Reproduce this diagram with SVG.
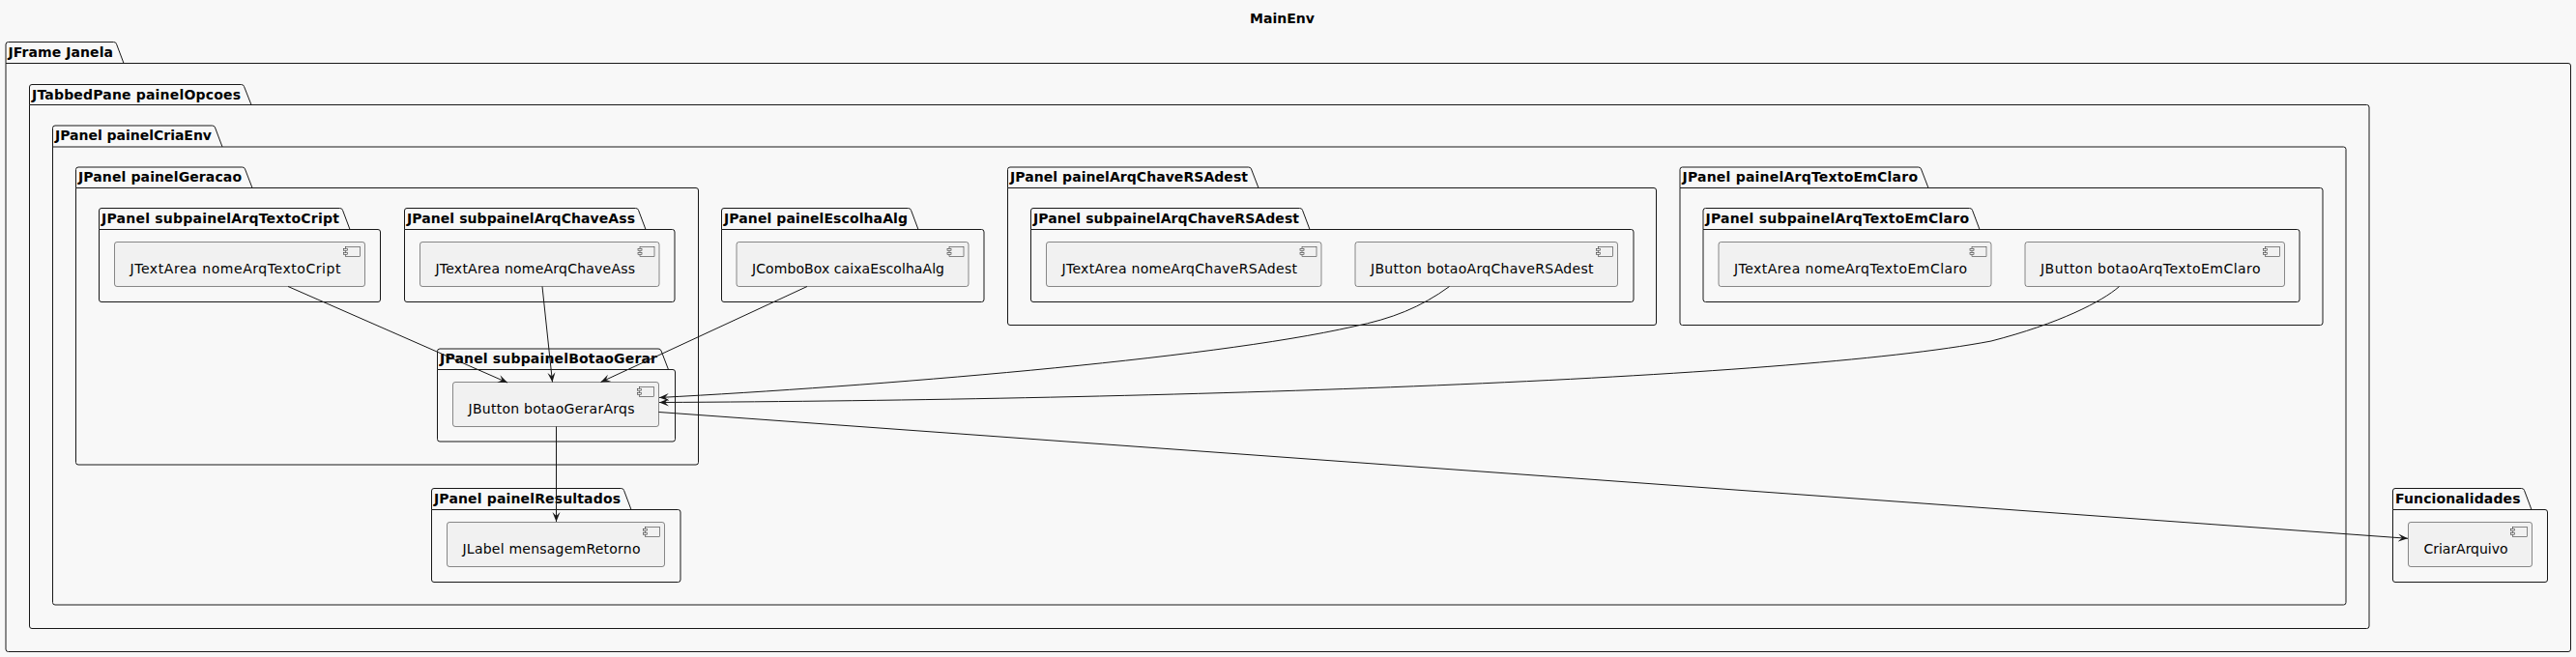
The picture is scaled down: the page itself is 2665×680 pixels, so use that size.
<svg xmlns="http://www.w3.org/2000/svg" width="2665" height="680" viewBox="0 0 2665 680">
<style>
.pkg{fill:none;stroke:#181818;stroke-width:1}
.comp{fill:#F1F1F1;stroke:#181818;stroke-width:0.5}
.ico{fill:#F1F1F1;stroke:#181818;stroke-width:0.5}
.ptxt{font-family:"DejaVu Sans",sans-serif;font-weight:bold;font-size:14px;fill:#000}
.ctxt{font-family:"DejaVu Sans",sans-serif;font-size:14px;fill:#000}
.edge{fill:none;stroke:#181818;stroke-width:1;marker-end:url(#arr)}
</style>
<defs>
<marker id="arr" markerUnits="userSpaceOnUse" markerWidth="12" markerHeight="10" refX="10" refY="5" orient="auto">
<path d="M0,1 L10,5 L0,9 L4,5 Z" fill="#181818"/>
</marker>
<g id="cicon">
<rect x="-20" y="5" width="15" height="10" class="ico"/>
<rect x="-22" y="7" width="4" height="2" class="ico"/>
<rect x="-22" y="11" width="4" height="2" class="ico"/>
</g>
</defs>
<rect x="0" y="0" width="2665" height="680" fill="#F8F8F8"/>
<text x="1326.5" y="23.5" class="ptxt" text-anchor="middle">MainEnv</text>

<g id="pkg-JFrameJanela">
<path class="pkg" d="M6,65.5 L6,46 Q6,43.5 8.5,43.5 L117.5,43.5 Q120,43.5 120.5,45.5 L128,65.5"/>
<path class="pkg" d="M6,65.5 L2657,65.5 Q2659.5,65.5 2659.5,68 L2659.5,672 Q2659.5,674.5 2657,674.5 L8.5,674.5 Q6,674.5 6,672 Z"/>
<text x="8.5" y="58.5" class="ptxt" textLength="108.5" lengthAdjust="spacing">JFrame Janela</text>
</g>

<g id="pkg-painelOpcoes">
<path class="pkg" d="M30.5,108.5 L30.5,90 Q30.5,87.5 33,87.5 L249.5,87.5 Q252,87.5 252.5,89.5 L260,108.5"/>
<path class="pkg" d="M30.5,108.5 L2448.5,108.5 Q2451,108.5 2451,111 L2451,648 Q2451,650.5 2448.5,650.5 L33,650.5 Q30.5,650.5 30.5,648 Z"/>
<text x="33" y="102.5" class="ptxt" textLength="216" lengthAdjust="spacing">JTabbedPane painelOpcoes</text>
</g>

<g id="pkg-painelCriaEnv">
<path class="pkg" d="M54.5,152 L54.5,132.5 Q54.5,130 57,130 L219.5,130 Q222,130 222.5,132 L230,152"/>
<path class="pkg" d="M54.5,152 L2424.5,152 Q2427,152 2427,154.5 L2427,623.5 Q2427,626 2424.5,626 L57,626 Q54.5,626 54.5,623.5 Z"/>
<text x="57" y="145" class="ptxt" textLength="162" lengthAdjust="spacing">JPanel painelCriaEnv</text>
</g>

<g id="pkg-painelGeracao">
<path class="pkg" d="M78.5,194.5 L78.5,175.5 Q78.5,173 81,173 L250.5,173 Q253,173 253.5,175 L261,194.5"/>
<path class="pkg" d="M78.5,194.5 L720,194.5 Q722.5,194.5 722.5,197 L722.5,478.5 Q722.5,481 720,481 L81,481 Q78.5,481 78.5,478.5 Z"/>
<text x="81" y="188" class="ptxt" textLength="169" lengthAdjust="spacing">JPanel painelGeracao</text>
</g>

<g id="pkg-subpainelArqTextoCript">
<path class="pkg" d="M102.5,237.5 L102.5,218 Q102.5,215.5 105,215.5 L351.5,215.5 Q354,215.5 354.5,217.5 L362,237.5"/>
<path class="pkg" d="M102.5,237.5 L391,237.5 Q393.5,237.5 393.5,240 L393.5,310 Q393.5,312.5 391,312.5 L105,312.5 Q102.5,312.5 102.5,310 Z"/>
<text x="105" y="230.5" class="ptxt" textLength="246" lengthAdjust="spacing">JPanel subpainelArqTextoCript</text>
</g>

<g id="pkg-subpainelArqChaveAss">
<path class="pkg" d="M418.5,237.5 L418.5,218 Q418.5,215.5 421,215.5 L657.5,215.5 Q660,215.5 660.5,217.5 L668,237.5"/>
<path class="pkg" d="M418.5,237.5 L695.5,237.5 Q698,237.5 698,240 L698,310 Q698,312.5 695.5,312.5 L421,312.5 Q418.5,312.5 418.5,310 Z"/>
<text x="421" y="230.5" class="ptxt" textLength="236" lengthAdjust="spacing">JPanel subpainelArqChaveAss</text>
</g>

<g id="pkg-subpainelBotaoGerar">
<path class="pkg" d="M452.5,382.5 L452.5,363.5 Q452.5,361 455,361 L681,361 Q683.5,361 684,363 L691.5,382.5"/>
<path class="pkg" d="M452.5,382.5 L696,382.5 Q698.5,382.5 698.5,385 L698.5,454.5 Q698.5,457 696,457 L455,457 Q452.5,457 452.5,454.5 Z"/>
<text x="455" y="376" class="ptxt" textLength="225" lengthAdjust="spacing">JPanel subpainelBotaoGerar</text>
</g>

<g id="pkg-painelResultados">
<path class="pkg" d="M446.5,527.5 L446.5,508 Q446.5,505.5 449,505.5 L642.5,505.5 Q645,505.5 645.5,507.5 L653,527.5"/>
<path class="pkg" d="M446.5,527.5 L701.5,527.5 Q704,527.5 704,530 L704,600 Q704,602.5 701.5,602.5 L449,602.5 Q446.5,602.5 446.5,600 Z"/>
<text x="449" y="520.5" class="ptxt" textLength="193" lengthAdjust="spacing">JPanel painelResultados</text>
</g>

<g id="pkg-painelEscolhaAlg">
<path class="pkg" d="M746.5,237.5 L746.5,218 Q746.5,215.5 749,215.5 L939.5,215.5 Q942,215.5 942.5,217.5 L950,237.5"/>
<path class="pkg" d="M746.5,237.5 L1015.5,237.5 Q1018,237.5 1018,240 L1018,310 Q1018,312.5 1015.5,312.5 L749,312.5 Q746.5,312.5 746.5,310 Z"/>
<text x="749" y="230.5" class="ptxt" textLength="190" lengthAdjust="spacing">JPanel painelEscolhaAlg</text>
</g>

<g id="pkg-painelArqChaveRSAdest">
<path class="pkg" d="M1042.5,194.5 L1042.5,175.5 Q1042.5,173 1045,173 L1291.5,173 Q1294,173 1294.5,175 L1302,194.5"/>
<path class="pkg" d="M1042.5,194.5 L1711,194.5 Q1713.5,194.5 1713.5,197 L1713.5,334 Q1713.5,336.5 1711,336.5 L1045,336.5 Q1042.5,336.5 1042.5,334 Z"/>
<text x="1045" y="188" class="ptxt" textLength="246" lengthAdjust="spacing">JPanel painelArqChaveRSAdest</text>
</g>

<g id="pkg-subpainelArqChaveRSAdest">
<path class="pkg" d="M1066.5,237.5 L1066.5,218 Q1066.5,215.5 1069,215.5 L1344.5,215.5 Q1347,215.5 1347.5,217.5 L1355,237.5"/>
<path class="pkg" d="M1066.5,237.5 L1687.5,237.5 Q1690,237.5 1690,240 L1690,310 Q1690,312.5 1687.5,312.5 L1069,312.5 Q1066.5,312.5 1066.5,310 Z"/>
<text x="1069" y="230.5" class="ptxt" textLength="275" lengthAdjust="spacing">JPanel subpainelArqChaveRSAdest</text>
</g>

<g id="pkg-painelArqTextoEmClaro">
<path class="pkg" d="M1738,194.5 L1738,175.5 Q1738,173 1740.5,173 L1984.5,173 Q1987,173 1987.5,175 L1995,194.5"/>
<path class="pkg" d="M1738,194.5 L2400.5,194.5 Q2403,194.5 2403,197 L2403,334 Q2403,336.5 2400.5,336.5 L1740.5,336.5 Q1738,336.5 1738,334 Z"/>
<text x="1740.5" y="188" class="ptxt" textLength="243.5" lengthAdjust="spacing">JPanel painelArqTextoEmClaro</text>
</g>

<g id="pkg-subpainelArqTextoEmClaro">
<path class="pkg" d="M1762,237.5 L1762,218 Q1762,215.5 1764.5,215.5 L2037.5,215.5 Q2040,215.5 2040.5,217.5 L2048,237.5"/>
<path class="pkg" d="M1762,237.5 L2376.5,237.5 Q2379,237.5 2379,240 L2379,310 Q2379,312.5 2376.5,312.5 L1764.5,312.5 Q1762,312.5 1762,310 Z"/>
<text x="1764.5" y="230.5" class="ptxt" textLength="272.5" lengthAdjust="spacing">JPanel subpainelArqTextoEmClaro</text>
</g>

<g id="pkg-Funcionalidades">
<path class="pkg" d="M2475.5,527.5 L2475.5,508 Q2475.5,505.5 2478,505.5 L2608.5,505.5 Q2611,505.5 2611.5,507.5 L2619,527.5"/>
<path class="pkg" d="M2475.5,527.5 L2633,527.5 Q2635.5,527.5 2635.5,530 L2635.5,600 Q2635.5,602.5 2633,602.5 L2478,602.5 Q2475.5,602.5 2475.5,600 Z"/>
<text x="2478" y="520.5" class="ptxt" textLength="129.5" lengthAdjust="spacing">Funcionalidades</text>
</g>

<g id="nomeArqTextoCript">
<rect class="comp" x="118.5" y="250.5" width="259" height="46" rx="2.5"/>
<use href="#cicon" x="377.5" y="250.5"/>
<text x="134.5" y="282.5" class="ctxt" textLength="218" lengthAdjust="spacing">JTextArea nomeArqTextoCript</text>
</g>
<g id="nomeArqChaveAss">
<rect class="comp" x="434.5" y="250.5" width="247.5" height="46" rx="2.5"/>
<use href="#cicon" x="682" y="250.5"/>
<text x="450.5" y="282.5" class="ctxt" textLength="206.5" lengthAdjust="spacing">JTextArea nomeArqChaveAss</text>
</g>
<g id="caixaEscolhaAlg">
<rect class="comp" x="762" y="250.5" width="240" height="46" rx="2.5"/>
<use href="#cicon" x="1002" y="250.5"/>
<text x="778" y="282.5" class="ctxt" textLength="199" lengthAdjust="spacing">JComboBox caixaEscolhaAlg</text>
</g>
<g id="nomeArqChaveRSAdest">
<rect class="comp" x="1082.5" y="250.5" width="284.5" height="46" rx="2.5"/>
<use href="#cicon" x="1367" y="250.5"/>
<text x="1098.5" y="282.5" class="ctxt" textLength="243.5" lengthAdjust="spacing">JTextArea nomeArqChaveRSAdest</text>
</g>
<g id="botaoArqChaveRSAdest">
<rect class="comp" x="1402" y="250.5" width="271.5" height="46" rx="2.5"/>
<use href="#cicon" x="1673.5" y="250.5"/>
<text x="1418" y="282.5" class="ctxt" textLength="230.5" lengthAdjust="spacing">JButton botaoArqChaveRSAdest</text>
</g>
<g id="nomeArqTextoEmClaro">
<rect class="comp" x="1778" y="250.5" width="282" height="46" rx="2.5"/>
<use href="#cicon" x="2060" y="250.5"/>
<text x="1794" y="282.5" class="ctxt" textLength="241" lengthAdjust="spacing">JTextArea nomeArqTextoEmClaro</text>
</g>
<g id="botaoArqTextoEmClaro">
<rect class="comp" x="2095" y="250.5" width="268.5" height="46" rx="2.5"/>
<use href="#cicon" x="2363.5" y="250.5"/>
<text x="2111" y="282.5" class="ctxt" textLength="227.5" lengthAdjust="spacing">JButton botaoArqTextoEmClaro</text>
</g>
<g id="botaoGerarArqs">
<rect class="comp" x="468.5" y="395.5" width="213" height="46" rx="2.5"/>
<use href="#cicon" x="681.5" y="395.5"/>
<text x="484.5" y="427.5" class="ctxt" textLength="172" lengthAdjust="spacing">JButton botaoGerarArqs</text>
</g>
<g id="mensagemRetorno">
<rect class="comp" x="462.5" y="540.5" width="225" height="46" rx="2.5"/>
<use href="#cicon" x="687.5" y="540.5"/>
<text x="478.5" y="572.5" class="ctxt" textLength="184" lengthAdjust="spacing">JLabel mensagemRetorno</text>
</g>
<g id="CriarArquivo">
<rect class="comp" x="2491.5" y="540.5" width="128" height="46" rx="2.5"/>
<use href="#cicon" x="2619.5" y="540.5"/>
<text x="2507.5" y="572.5" class="ctxt" textLength="87" lengthAdjust="spacing">CriarArquivo</text>
</g>

<g id="connectors">
<path class="edge" d="M298,296.5 L525,396"/>
<path class="edge" d="M561,296.5 L571.5,395.5"/>
<path class="edge" d="M835,296.5 L621.5,395.5"/>
<path class="edge" d="M1499.5,296.5 C1470,318 1440,330 1400,338 C1250,372 900,400 682,411.5"/>
<path class="edge" d="M2192.5,296.5 C2175,312 2130,335 2060,353 C1850,393 1200,414 682,416.5"/>
<path class="edge" d="M575.5,441.5 L575.5,540"/>
<path class="edge" d="M681.5,426.5 L2491,557.3"/>
</g>
</svg>
